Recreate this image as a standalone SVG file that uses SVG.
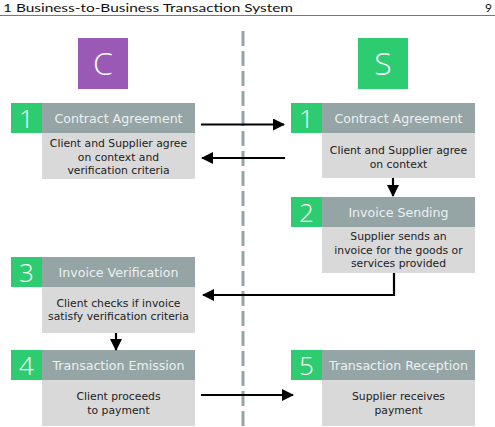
<svg xmlns="http://www.w3.org/2000/svg" width="495" height="427" viewBox="0 0 495 427">
<defs>
<style>
.pg{font-family:"URW Gothic","Lato","Open Sans",sans-serif;font-size:12px;fill:#111}
.num{fill:#2ecc71}
.hd{fill:#95a5a6}
.bd{fill:#d9d9d9}
.nt{font-family:"Open Sans","DejaVu Sans",sans-serif;font-weight:300;font-size:26px;fill:#ffffff;text-anchor:middle}
.ht{font-family:"DejaVu Sans",sans-serif;font-size:12.6px;fill:#ecf0f1;text-anchor:middle}
.bt{font-family:"DejaVu Sans",sans-serif;font-size:10.8px;fill:#222222;text-anchor:middle}
.lt{font-family:"Open Sans","DejaVu Sans",sans-serif;font-weight:300;font-size:32px;fill:#ffffff;text-anchor:middle}
.conn{fill:none;stroke:#000;stroke-width:2.2}
</style>
<marker id="ah" markerUnits="userSpaceOnUse" markerWidth="12" markerHeight="12" viewBox="0 0 12 12" refX="11" refY="6" orient="auto">
<path d="M0,0 L12,6 L0,12 Z" fill="#000"/>
</marker>
</defs>
<rect width="495" height="427" fill="#ffffff"/>
<g id="page-header">
<text class="pg" x="3" y="12" textLength="290" lengthAdjust="spacingAndGlyphs">1  Business-to-Business Transaction System</text>
<text class="pg" x="485" y="12">9</text>
<line x1="0" y1="15.5" x2="495" y2="15.5" stroke="#777" stroke-width="1"/>
</g>
<g id="divider">
<line x1="243" y1="31" x2="243" y2="427" stroke="#95a5a6" stroke-width="3" stroke-dasharray="15,5"/>
</g>
<g id="client">
<rect x="78" y="38" width="50" height="51" fill="#9b59b6"/>
<text class="lt" x="103" y="75">C</text>
</g>
<g id="supplier">
<rect x="358" y="38" width="50" height="51" fill="#2ecc71"/>
<text class="lt" x="383" y="75">S</text>
</g>
<g id="node-c1">
<rect class="num" x="11" y="103" width="31" height="30"/>
<rect class="hd" x="42" y="103" width="153" height="30"/>
<rect class="bd" x="42" y="133" width="153" height="46"/>
<text class="nt" x="26.5" y="127.5">1</text>
<text class="ht" x="118.5" y="122.5">Contract Agreement</text>
<text class="bt" x="118.5" y="147">Client and Supplier agree</text>
<text class="bt" x="118.5" y="160.5">on context and</text>
<text class="bt" x="118.5" y="174">verification criteria</text>
</g>
<g id="node-s1">
<rect class="num" x="291" y="103" width="31" height="30"/>
<rect class="hd" x="322" y="103" width="153" height="30"/>
<rect class="bd" x="322" y="133" width="153" height="45"/>
<text class="nt" x="306.5" y="127.5">1</text>
<text class="ht" x="398.5" y="122.5">Contract Agreement</text>
<text class="bt" x="398.5" y="154">Client and Supplier agree</text>
<text class="bt" x="398.5" y="167.5">on context</text>
</g>
<g id="node-s2">
<rect class="num" x="291" y="197" width="31" height="30"/>
<rect class="hd" x="322" y="197" width="153" height="30"/>
<rect class="bd" x="322" y="227" width="153" height="46"/>
<text class="nt" x="306.5" y="221.5">2</text>
<text class="ht" x="398.5" y="216.5">Invoice Sending</text>
<text class="bt" x="398.5" y="240">Supplier sends an</text>
<text class="bt" x="398.5" y="253.5">invoice for the goods or</text>
<text class="bt" x="398.5" y="267">services provided</text>
</g>
<g id="node-c3">
<rect class="num" x="11" y="257" width="31" height="30"/>
<rect class="hd" x="42" y="257" width="153" height="30"/>
<rect class="bd" x="42" y="287" width="153" height="46"/>
<text class="nt" x="26.5" y="281.5">3</text>
<text class="ht" x="118.5" y="276.5">Invoice Verification</text>
<text class="bt" x="118.5" y="306.5">Client checks if invoice</text>
<text class="bt" x="118.5" y="320">satisfy verification criteria</text>
</g>
<g id="node-c4">
<rect class="num" x="11" y="350" width="31" height="30"/>
<rect class="hd" x="42" y="350" width="153" height="30"/>
<rect class="bd" x="42" y="380" width="153" height="46"/>
<text class="nt" x="26.5" y="374.5">4</text>
<text class="ht" x="118.5" y="369.5">Transaction Emission</text>
<text class="bt" x="118.5" y="400">Client proceeds</text>
<text class="bt" x="118.5" y="413.5">to payment</text>
</g>
<g id="node-s5">
<rect class="num" x="291" y="350" width="31" height="30"/>
<rect class="hd" x="322" y="350" width="153" height="30"/>
<rect class="bd" x="322" y="380" width="153" height="46"/>
<text class="nt" x="306.5" y="374.5">5</text>
<text class="ht" x="398.5" y="369.5">Transaction Reception</text>
<text class="bt" x="398.5" y="400">Supplier receives</text>
<text class="bt" x="398.5" y="413.5">payment</text>
</g>
<g id="connectors">
<line class="conn" x1="201" y1="124.5" x2="284" y2="124.5" marker-end="url(#ah)"/>
<line class="conn" x1="285" y1="158" x2="202" y2="158" marker-end="url(#ah)"/>
<line class="conn" x1="393" y1="178" x2="393" y2="196" marker-end="url(#ah)"/>
<polyline class="conn" points="394,273 394,295 203,295" marker-end="url(#ah)"/>
<line class="conn" x1="116" y1="333" x2="116" y2="350" marker-end="url(#ah)"/>
<line class="conn" x1="201" y1="395" x2="293" y2="395" marker-end="url(#ah)"/>
</g>
</svg>
